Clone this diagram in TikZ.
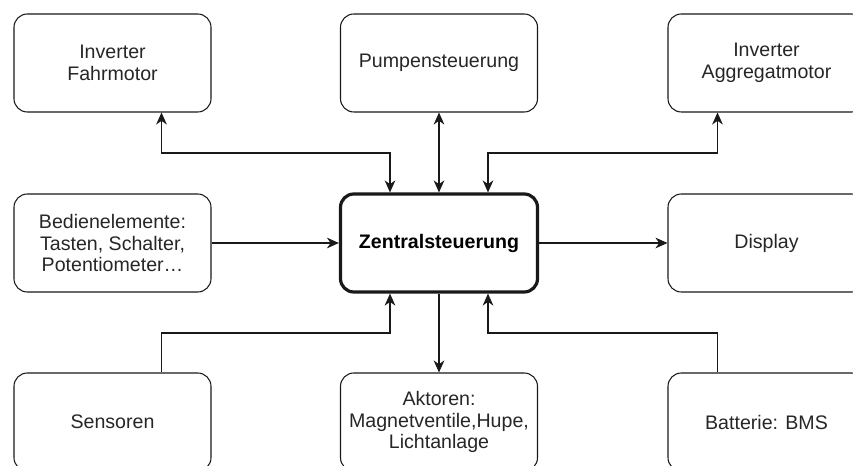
\documentclass[tikz,border=0pt]{standalone}
\usepackage{fontspec}
\setmainfont{Liberation Sans}
\usetikzlibrary{arrows.meta}

\tikzset{
  box/.style={draw=black!90, line width=0.8pt, rounded corners=10pt,
    minimum width=147.75pt, minimum height=73.5pt, inner sep=0pt,
    align=center, text=black!85,
    font=\fontsize{14.7pt}{16.3pt}\selectfont},
  mainbox/.style={box, line width=2.4pt, text=black,
    font=\fontsize{14.7pt}{16.3pt}\selectfont\bfseries},
  tip/.tip={Stealth[length=9pt,width=8pt,inset=2.8pt]},
  link/.style={draw=black!90, line width=0.8pt, arrows={-tip}},
  biglink/.style={link, arrows={tip-tip}}
}

\begin{document}
\begin{tikzpicture}[x=0.75pt,y=-0.75pt]
  \useasboundingbox (0,0) rectangle (853,466);
  \clip (0,0) rectangle (853,466);

  % blocks
  \node[box]     (tl)  at (112.5,63)  {Inverter\\Fahrmotor};
  \node[box]     (tm)  at (439,63)    {Pumpensteuerung};
  \node[box]     (tr)  at (766.5,63)  {Inverter\\Aggregatmotor};
  \node[box]     (ml)  at (112.5,243) {Bedienelemente:\\Tasten, Schalter,\\Potentiometer…};
  \node[mainbox] (ctr) at (439,243)   {Zentralsteuerung};
  \node[box]     (mr)  at (766.5,243) {Display};
  \node[box]     (bl)  at (112.5,422) {Sensoren};
  \node[box]     (bm)  at (439,422)   {Aktoren:\\Magnetventile,Hupe,\\Lichtanlage};
  \node[box]     (br)  at (766.5,422) {Batterie: BMS};

  % routing helpers
  \coordinate (ytop) at (0,153);
  \coordinate (ybot) at (0,333);
  \coordinate (tlA) at ([xshift=36.75pt]tl.south);
  \coordinate (trA) at ([xshift=-36.75pt]tr.south);
  \coordinate (blA) at ([xshift=36.75pt]bl.north);
  \coordinate (brA) at ([xshift=-36.75pt]br.north);
  \coordinate (cN1) at ([xshift=-36.75pt]ctr.north);
  \coordinate (cN3) at ([xshift=36.75pt]ctr.north);
  \coordinate (cS1) at ([xshift=-36.75pt]ctr.south);
  \coordinate (cS3) at ([xshift=36.75pt]ctr.south);

  % connectors, top row
  \draw[biglink] (tlA) -- (tlA |- ytop) -- (cN1 |- ytop) -- (cN1);
  \draw[biglink] (tm.south) -- (ctr.north);
  \draw[biglink] (trA) -- (trA |- ytop) -- (cN3 |- ytop) -- (cN3);

  % connectors, middle row
  \draw[link] (ml.east) -- (ctr.west);
  \draw[link] (ctr.east) -- (mr.west);

  % connectors, bottom row
  \draw[link] (blA) -- (blA |- ybot) -- (cS1 |- ybot) -- (cS1);
  \draw[link] (ctr.south) -- (bm.north);
  \draw[link] (brA) -- (brA |- ybot) -- (cS3 |- ybot) -- (cS3);
\end{tikzpicture}
\end{document}
